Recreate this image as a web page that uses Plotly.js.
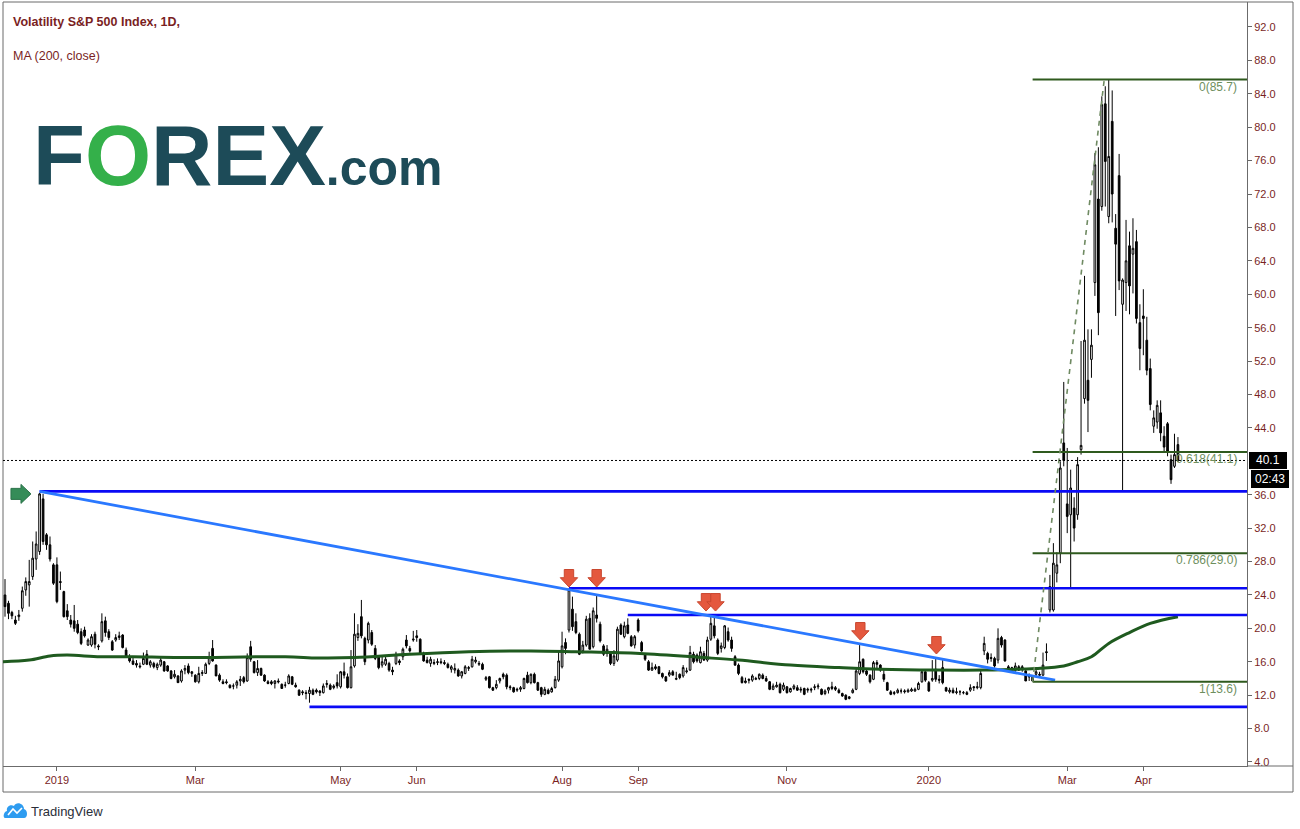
<!DOCTYPE html>
<html><head><meta charset="utf-8">
<script src="https://cdn.plot.ly/plotly-3.0.1.min.js"></script>
<style>html,body{margin:0;padding:0;background:#fff;overflow:hidden}#chart{width:1300px;height:829px}</style>
</head><body><div id="chart"></div>
<script>
// ---- Daily OHLC of the Volatility S&P 500 Index, 10 Dec 2018 .. 16 Apr 2020 (one row per month) ----
const open = [
24.0,23.0,21.9,21.0,21.4,22.4,24.6,25.2,26.2,28.3,29.2,35.5,31.2,30.0,27.6,
27.6,25.6,24.4,22.1,21.0,20.9,20.5,19.6,19.8,18.0,18.0,19.3,17.9,18.5,20.9,19.6,18.4,18.6,18.9,19.2,17.4,
16.6,16.1,15.8,15.5,15.7,16.9,15.6,15.8,15.3,15.6,16.0,15.5,14.9,14.2,14.3,13.7,15.0,15.5,14.6,
14.4,13.6,14.6,14.6,15.8,17.6,15.6,14.4,13.6,13.6,13.2,13.1,13.2,13.7,14.1,13.7,17.8,16.0,14.7,15.2,14.4,
13.6,13.6,13.4,13.7,13.3,13.2,13.4,14.2,13.2,12.6,12.4,12.3,12.2,12.6,12.6,12.5,12.3,13.4,13.2,12.9,13.5,
13.0,14.8,14.2,12.9,15.5,18.9,21.4,18.8,18.6,19.5,17.6,16.6,15.6,15.7,15.8,15.0,15.8,16.1,16.6,18.6,17.6,18.6,
19.1,18.7,17.0,16.2,15.8,15.8,15.9,16.0,15.9,15.7,15.1,15.0,15.0,14.3,14.6,15.2,15.4,16.0,15.7,15.7,
13.9,14.2,12.9,12.9,13.7,14.5,14.4,13.0,12.9,12.6,12.7,12.8,14.4,13.5,14.5,13.5,12.9,12.1,12.6,12.4,12.9,13.8,
15.4,18.3,19.8,22.3,20.8,19.3,17.3,18.0,21.2,17.8,21.6,20.5,17.9,17.0,17.0,15.8,16.2,20.4,19.0,20.4,19.0,18.0,
21.0,18.3,16.9,16.0,15.0,15.4,15.4,14.6,14.2,14.4,14.8,13.9,14.5,14.3,14.8,15.0,16.9,16.8,15.9,17.0,
16.2,18.7,20.3,18.6,17.6,17.7,19.6,18.6,16.6,15.6,14.1,13.5,13.9,13.8,13.9,14.0,14.4,14.0,13.6,12.7,13.0,13.3,12.7,
13.0,12.4,12.8,12.9,12.6,12.8,12.6,12.6,12.9,13.0,12.7,12.2,12.6,13.0,12.9,12.6,12.2,12.0,11.6,12.3,
12.7,14.6,16.3,14.9,14.4,13.9,15.9,15.6,14.5,13.5,12.4,12.2,12.3,12.5,12.4,12.4,12.5,12.5,12.7,13.6,14.8,
13.5,13.8,15.1,13.9,15.3,12.9,12.4,12.6,12.3,12.4,12.3,12.3,12.6,13.0,12.9,12.9,17.3,17.0,16.5,16.4,16.2,
18.9,18.6,15.4,15.3,15.0,15.4,15.4,14.9,14.3,14.3,14.5,14.5,14.4,17.2,22.2,22.2,26.6,29.0,42.2,
34.9,33.6,34.4,33.6,41.4,47.5,49.7,52.2,61.4,71.4,70.5,82.8,69.3,80.7,67.9,74.2,58.8,61.4,65.8,64.8,66.3,56.6,
57.4,54.5,51.1,44.2,44.7,45.8,43.0,44.5,40.2,39.4,42.0];
const high = [
25.9,23.3,22.1,21.5,22.2,25.0,26.1,28.2,30.4,31.6,36.2,36.1,31.4,31.0,27.8,
28.5,26.8,24.5,22.9,21.6,22.8,21.0,20.0,20.2,18.8,19.3,19.6,18.1,21.8,21.4,19.9,18.6,19.3,19.6,19.3,17.7,
16.9,16.6,16.2,15.9,17.1,17.4,16.2,16.0,15.9,16.5,16.1,15.6,15.0,15.0,14.4,15.1,15.6,15.8,14.9,
14.5,15.4,15.0,15.9,17.2,18.6,15.7,14.6,13.9,13.9,13.3,13.4,13.8,14.3,14.3,17.0,18.5,16.1,16.2,15.3,14.5,
13.8,13.8,13.8,14.0,13.4,13.6,14.5,14.3,13.5,12.7,12.6,12.6,13.0,12.8,12.8,12.6,13.4,13.8,13.4,13.3,14.5,
14.9,15.9,14.6,17.4,21.8,20.5,23.4,19.0,20.8,19.8,18.0,16.8,16.6,16.8,16.0,15.4,17.2,16.3,17.7,19.2,17.9,19.7,
19.8,18.8,17.2,16.6,16.6,16.3,16.4,16.4,16.2,15.9,15.6,15.8,15.2,14.9,15.6,15.5,16.7,16.6,16.1,15.9,
14.3,14.3,13.0,13.8,14.1,14.7,14.6,13.2,13.0,12.9,13.1,14.1,14.8,14.6,14.7,13.6,13.0,13.0,12.8,13.0,14.3,17.3,
19.6,18.8,24.8,23.8,21.8,19.5,18.5,21.5,21.8,22.5,24.0,20.8,18.1,18.0,17.2,17.4,20.2,20.6,20.8,21.2,19.2,19.2,
21.2,18.5,17.0,16.2,15.9,15.7,15.5,14.7,14.3,15.0,15.0,14.8,14.6,15.6,15.3,17.9,17.2,17.0,17.8,17.3,
19.0,21.5,21.3,18.8,18.3,20.4,20.1,19.0,16.8,15.8,14.3,14.1,14.0,14.5,14.2,14.6,14.6,14.3,13.7,13.4,13.6,13.5,13.5,
13.1,12.9,13.3,13.2,13.0,12.9,12.9,12.9,13.3,13.4,12.8,12.7,13.0,13.6,13.1,12.8,12.3,12.1,11.9,12.8,
15.3,18.0,16.4,15.2,14.5,16.1,16.2,15.7,15.2,13.6,12.6,12.5,12.8,12.8,12.7,12.8,12.9,12.9,13.6,15.0,15.0,
13.7,16.2,16.4,14.4,16.2,13.0,12.9,12.9,12.9,12.6,12.5,12.5,13.3,13.1,13.6,15.0,19.0,17.2,17.0,16.6,20.0,
19.1,18.7,15.6,15.4,15.9,15.6,15.6,15.0,14.6,14.4,15.3,14.8,17.1,18.2,26.4,30.2,29.1,40.0,49.5,
41.6,39.0,35.7,40.5,54.4,62.2,55.8,55.8,76.9,77.6,83.7,84.9,85.7,84.4,69.6,76.8,61.9,68.9,67.5,69.1,67.7,58.8,
60.6,57.3,52.3,46.1,47.3,47.3,44.2,44.7,40.8,43.3,42.9];
const low = [
21.4,21.1,21.1,20.4,20.9,22.0,23.9,22.6,25.8,27.0,28.8,30.0,29.4,28.0,25.2,
23.0,24.6,21.3,21.0,20.1,19.6,19.3,18.0,18.9,17.9,17.8,17.6,17.4,18.3,19.0,18.6,17.3,18.4,18.6,17.6,16.5,
15.9,15.6,15.3,15.2,15.6,15.6,15.3,15.2,15.0,15.4,14.8,14.8,13.9,14.0,13.5,13.5,14.5,14.5,14.2,
13.5,13.4,14.3,14.6,15.6,16.0,14.3,13.6,13.3,13.3,12.8,12.7,12.8,13.1,13.4,13.6,16.0,14.6,14.3,14.3,13.6,
13.3,13.2,12.8,13.4,12.8,12.9,13.3,13.2,12.9,11.9,12.0,11.5,11.1,12.0,12.2,11.9,12.2,12.9,12.6,12.7,12.8,
12.8,14.0,12.8,12.8,15.3,18.5,18.8,15.6,18.2,17.9,16.2,15.1,15.3,15.5,14.8,14.4,15.6,15.6,16.2,17.6,17.1,18.4,
18.4,16.9,16.0,15.8,15.4,15.6,15.6,15.7,15.6,15.2,14.7,14.6,14.2,14.0,14.5,14.9,15.3,15.8,15.5,15.0,
13.7,12.8,12.5,12.7,13.4,13.9,12.7,12.6,12.3,12.4,12.4,12.7,13.4,13.3,13.4,12.5,11.8,12.0,12.1,12.3,12.8,13.6,
15.2,16.9,19.5,19.7,19.3,16.8,17.0,17.8,17.5,17.6,20.7,18.3,16.7,16.6,15.6,15.5,16.0,19.2,18.8,19.3,17.8,17.6,
19.5,17.2,16.1,14.9,14.9,15.0,14.5,14.0,13.6,14.2,14.4,13.8,13.9,14.1,14.6,14.9,15.8,15.9,15.8,16.1,
16.0,18.5,18.8,16.8,17.1,17.5,18.4,17.2,15.5,14.4,13.4,13.4,13.4,13.6,13.8,13.8,13.9,13.6,12.6,12.6,12.9,12.2,12.5,
12.2,12.3,12.6,12.5,12.3,12.0,12.3,12.3,12.6,12.7,12.0,12.0,12.2,12.6,12.5,12.2,11.8,11.4,11.5,12.2,
12.6,14.4,14.6,14.3,13.4,13.8,15.2,14.8,13.6,12.5,12.0,12.0,12.2,12.2,12.2,12.3,12.4,12.4,12.6,13.5,13.6,
12.4,13.6,13.6,13.4,13.3,12.4,12.2,12.2,12.1,12.0,12.1,12.0,12.4,12.5,12.7,12.7,16.8,15.8,16.0,15.3,15.8,
17.7,16.0,14.9,14.8,14.8,14.9,14.8,13.7,13.7,13.6,14.3,14.2,14.3,16.1,21.9,22.0,25.5,27.8,39.4,
31.4,24.8,30.4,33.0,40.8,46.9,43.5,50.0,59.8,55.1,70.0,70.5,68.5,68.6,57.4,60.5,36.4,58.0,57.6,60.1,56.5,50.9,
52.7,50.3,46.1,43.4,43.9,42.4,41.0,40.6,37.3,39.2,39.9];
const close = [
22.6,21.8,21.5,20.6,21.6,24.5,25.6,25.6,28.4,30.1,36.1,30.4,30.0,28.3,25.4,
23.2,25.5,21.4,21.4,20.5,20.0,19.5,18.2,19.1,18.6,19.0,18.1,17.8,20.8,19.5,18.9,17.4,18.9,19.1,17.7,16.6,
16.1,15.7,15.6,15.4,16.4,15.7,16.0,15.4,15.7,16.2,14.9,14.9,14.0,14.5,13.5,14.9,15.2,14.7,14.8,
13.6,14.6,14.7,15.7,16.6,16.1,14.3,13.8,13.4,13.5,12.9,13.1,13.6,13.9,13.6,16.5,16.3,14.7,15.2,14.4,13.7,
13.4,13.4,13.7,13.6,12.8,13.2,14.3,13.3,13.0,12.0,12.3,12.2,12.6,12.1,12.4,12.3,13.1,13.3,12.7,13.1,13.1,
14.8,14.4,12.9,15.4,19.3,19.4,19.1,16.0,20.6,18.1,16.4,15.3,16.0,16.3,15.0,14.8,16.9,15.9,17.5,17.9,17.3,18.7,
18.9,17.0,16.1,15.9,16.3,15.9,16.0,15.9,15.8,15.3,15.4,15.2,14.3,14.8,15.4,15.3,16.3,16.2,15.8,15.1,
14.1,12.9,12.6,13.3,14.0,14.2,13.0,12.9,12.4,12.7,12.9,14.0,13.5,14.5,13.5,12.6,12.1,12.7,12.2,12.8,13.9,16.1,
17.9,17.6,24.6,20.2,19.5,16.9,18.0,21.1,17.5,22.1,21.2,18.5,16.9,17.5,15.8,16.7,19.9,19.3,20.3,19.4,17.9,19.0,
19.7,17.3,16.3,15.0,15.3,15.2,14.6,14.2,13.7,14.7,14.4,14.0,14.1,15.3,14.9,17.1,16.0,16.1,17.2,16.2,
18.6,20.6,19.1,17.0,17.9,20.3,18.6,17.6,15.6,14.6,13.5,13.7,13.8,14.3,14.0,14.5,14.0,13.7,12.7,13.1,13.2,12.3,13.2,
12.3,12.8,13.1,12.6,12.7,12.1,12.7,12.7,13.0,13.1,12.1,12.5,12.9,12.8,12.7,12.3,11.9,11.5,11.8,12.6,
14.9,16.0,14.8,14.5,13.6,15.9,15.7,15.0,13.9,12.6,12.1,12.3,12.6,12.5,12.5,12.6,12.7,12.7,13.4,14.8,13.8,
12.5,14.0,13.9,13.8,13.5,12.5,12.6,12.3,12.4,12.4,12.3,12.1,12.9,12.9,13.0,14.6,18.2,16.3,16.4,15.5,18.8,
18.0,16.1,15.2,15.0,15.5,15.0,15.2,13.7,14.2,13.7,14.8,14.4,15.6,17.1,25.0,27.8,27.6,39.2,40.1,
33.4,36.8,32.0,39.6,41.9,54.5,47.3,53.9,75.5,57.8,82.7,75.9,76.5,72.0,66.0,61.6,61.7,64.0,61.0,65.5,57.1,53.5,
57.1,50.9,46.8,45.2,46.7,43.4,41.7,41.2,37.8,40.8,40.1];

const maIdx = [-0.6, 7, 13, 18, 27.5, 37, 50.6, 81, 90.5, 101, 117, 134, 152, 165, 183.5, 202, 212, 227, 241, 253, 269, 283, 298, 306, 310, 314, 319, 325, 331, 339];
const maVal = [16.0, 16.2, 16.7, 16.8, 16.6, 16.6, 16.5, 16.6, 16.45, 16.5, 16.9, 17.2, 17.3, 17.2, 17.0, 16.5, 16.2, 15.6, 15.3, 15.1, 15.0, 15.0, 15.2, 15.5, 16.0, 16.6, 18.2, 19.5, 20.6, 21.4];

// Market holidays (for the trading-day calendar) and time-axis labels
const holidays = ['2018-12-25','2019-01-01','2019-01-21','2019-02-18','2019-04-19','2019-05-27','2019-07-04','2019-09-02','2019-11-28','2019-12-25','2020-01-01','2020-01-20','2020-02-17','2020-04-10'];
const tickDates = ['2019-01-02','2019-03-01','2019-05-01','2019-06-03','2019-08-01','2019-09-03','2019-11-01','2020-01-02','2020-03-02','2020-04-01'];
const tickLabels = ['2019','Mar','May','Jun','Aug','Sep','Nov','2020','Mar','Apr'];
// Price-axis ticks (40.0 is covered by the last-price label in the reference)
const priceTicks = [4,8,12,16,20,24,28,32,36,44,48,52,56,60,64,68,72,76,80,84,88,92];

// Fibonacci retracement (level, price)
const fibLevels = [0, 0.618, 0.786, 1];
const fibValues = [85.7, 41.1, 29.0, 13.6];

// Drawn horizontal levels (start date, price) and the falling trend line
const levelStart = ['2018-12-24','2019-08-05','2019-08-28','2019-04-17'];
const levelValue = [36.4, 24.8, 21.6, 10.6];
const trendDates = ['2018-12-24','2020-02-26'];
const trendValues = [36.4, 13.8];
// Red marker arrows (date, price at arrow tip)
const arrowDates = ['2019-08-05','2019-08-15','2019-10-01','2019-10-03','2019-12-03','2020-01-06'];
const arrowOffset = [0, 0, -0.4, 0.35, 0.2, 0.2];
const arrowValues = [24.95, 24.95, 22.07, 22.07, 18.6, 16.93];
const countdown = '02:43';

// ---- trading-day calendar ----
const dates = [];
for (let d = new Date(Date.UTC(2018, 11, 10)); dates.length < close.length; d.setUTCDate(d.getUTCDate() + 1)) {
  const wd = d.getUTCDay(); const s = d.toISOString().slice(0, 10);
  if (wd === 0 || wd === 6 || holidays.includes(s)) continue;
  dates.push(s);
}
const idx = dates.map((_, i) => i);
const di = s => dates.indexOf(s);

const XL = -0.58, XR = 358.96, YB = 3.52, YT = 94.99;
const W = 1300, H = 829, ML = 3, MR = 53, MT = 2, MB = 63;
const PW = W - ML - MR, PH = H - MT - MB;
const px = x => (x - ML) / PW;          // pixel -> paper x
const py = y => (H - MB - y) / PH;       // pixel -> paper y

const darkRed = '#7a1f1f';
const fibColor = '#6e8f5e';
const shapes = [];
const annotations = [];

// frame
shapes.push({type:'rect', xref:'paper', yref:'paper', x0:0, x1:px(1293), y0:py(792), y1:1, line:{color:'#6b6b6b', width:1}, layer:'below'});
shapes.push({type:'line', xref:'paper', yref:'paper', x0:1, x1:px(1293), y0:0, y1:0, line:{color:'#6b6b6b', width:1}});

// blue horizontal levels
levelStart.forEach((s, i) => shapes.push({type:'line', xref:'x', yref:'y', x0:di(s), x1:XR, y0:levelValue[i], y1:levelValue[i], line:{color:'#0a0af5', width:2.6}}));
// trend line
shapes.push({type:'line', xref:'x', yref:'y', x0:di(trendDates[0]), x1:di(trendDates[1]) - 0.5, y0:trendValues[0], y1:trendValues[1], line:{color:'#2a78ff', width:2.8}});

// fib lines + labels
const fibStart = di('2020-02-14');
fibValues.forEach((v, i) => {
  shapes.push({type:'line', xref:'x', yref:'y', x0:fibStart, x1:XR, y0:v, y1:v, line:{color:'#2f5a1e', width:2}});
  annotations.push({xref:'x', yref:'y', x:356.6, y:v, xanchor:'right', yanchor:'middle', yshift:-7, showarrow:false,
    text: fibLevels[i] + '(' + v.toFixed(1) + ')', font:{family:'Liberation Sans, Arial', size:12, color:fibColor}});
});
// dashed fib diagonal
shapes.push({type:'line', xref:'x', yref:'y', x0:fibStart, x1:di('2020-03-16') + 0.7, y0:fibValues[3], y1:fibValues[0], line:{color:'#6f8a62', width:1.6, dash:'5px,5px'}});

// current price dotted line and labels
const last = close[close.length - 1];
shapes.push({type:'line', xref:'paper', yref:'y', x0:0, x1:1, y0:last, y1:last, line:{color:'#000', width:1, dash:'2px,2px'}});
shapes.push({type:'rect', xref:'paper', yref:'y', ysizemode:'pixel', yanchor:last, x0:px(1249), x1:px(1287), y0:-8.5, y1:8.5, fillcolor:'#000', line:{width:0}});
shapes.push({type:'rect', xref:'paper', yref:'y', ysizemode:'pixel', yanchor:last, x0:px(1251), x1:px(1289), y0:-9.5, y1:-27.5, fillcolor:'#000', line:{width:0}});
annotations.push({xref:'paper', yref:'y', x:px(1268), y:last, xanchor:'center', yanchor:'middle', showarrow:false, text:last.toFixed(1), font:{family:'Liberation Sans, Arial', size:12, color:'#fff'}});
annotations.push({xref:'paper', yref:'y', x:px(1270), y:last, yshift:-18.5, xanchor:'center', yanchor:'middle', showarrow:false, text:countdown, font:{family:'Liberation Sans, Arial', size:12, color:'#fff'}});

// red arrows (pixel-sized paths anchored at data points)
const arrowPath = 'M 0 0 L -8.7 9.3 L -4.7 9.3 L -4.7 17.5 L 4.7 17.5 L 4.7 9.3 L 8.7 9.3 Z';
arrowDates.forEach((s, i) => shapes.push({type:'path', xref:'x', yref:'y', xsizemode:'pixel', ysizemode:'pixel',
  xanchor:di(s) + arrowOffset[i], yanchor:arrowValues[i], path:arrowPath, fillcolor:'#e4583e', line:{color:'#c9472f', width:1}}));
// green arrow at the December 2018 high
shapes.push({type:'path', xref:'x', yref:'y', xsizemode:'pixel', ysizemode:'pixel', xanchor:7.5, yanchor:36.1,
  path:'M 0 0 L -10 9.5 L -10 5.5 L -20 5.5 L -20 -5.5 L -10 -5.5 L -10 -9.5 Z', fillcolor:'#358c58', line:{color:'#2b7249', width:1}});

// header texts
annotations.push({xref:'paper', yref:'paper', x:px(11), y:py(22), xanchor:'left', yanchor:'middle', showarrow:false,
  text:'<b>Volatility S&amp;P 500 Index, 1D, </b>', font:{family:'Liberation Sans, Arial', size:12.5, color:darkRed}});
annotations.push({xref:'paper', yref:'paper', x:px(11), y:py(56), xanchor:'left', yanchor:'middle', showarrow:false,
  text:'MA (200, close)', font:{family:'Liberation Sans, Arial', size:12.5, color:darkRed}});
// logo
annotations.push({xref:'paper', yref:'paper', x:px(31), y:py(155), xanchor:'left', yanchor:'middle', showarrow:false,
  text:'<b>F<span style="color:#34b04a">O</span>REX<span style="font-size:50px">.com</span></b>', font:{family:'Liberation Sans, Arial', size:85, color:'#1d4b58'}});
// TradingView footer
annotations.push({xref:'paper', yref:'paper', x:px(29), y:py(811), xanchor:'left', yanchor:'middle', showarrow:false,
  text:'TradingView', font:{family:'Liberation Sans, Arial', size:13, color:'#2a2e39'}});
shapes.push({type:'path', xref:'paper', yref:'paper', xsizemode:'pixel', ysizemode:'pixel', xanchor:px(3), yanchor:py(819),
  path:'M 2 1 L 21 1 C 25 1 25 9 21 10 C 21 16 13 18 11 13 C 7 15 3 12 4 8 C 0 7 0 1 2 1 Z', fillcolor:'#2e9cf0', line:{width:0}});
shapes.push({type:'path', xref:'paper', yref:'paper', xsizemode:'pixel', ysizemode:'pixel', xanchor:px(3), yanchor:py(819),
  path:'M 5 4 L 10 10 L 14 6 L 19 11', line:{color:'#ffffff', width:1.6}});

const traces = [
  {type:'candlestick', x:idx, open:open, high:high, low:low, close:close, whiskerwidth:0,
   increasing:{line:{color:'#000', width:1}, fillcolor:'#ffffff'},
   decreasing:{line:{color:'#000', width:1}, fillcolor:'#000000'},
   hoverinfo:'skip', showlegend:false},
  {type:'scatter', mode:'lines', x:maIdx, y:maVal, line:{color:'#1f5a1f', width:3, shape:'spline', smoothing:1}, hoverinfo:'skip', showlegend:false}
];

const layout = {
  width:W, height:H, margin:{l:ML, r:MR, t:MT, b:MB, pad:0},
  paper_bgcolor:'#fff', plot_bgcolor:'#fff', showlegend:false,
  xaxis:{range:[XL, XR], autorange:false, rangeslider:{visible:false}, showgrid:false, zeroline:false,
    tickmode:'array', tickvals:tickDates.map(di), ticktext:tickLabels, ticks:'outside', ticklen:4, tickcolor:'#666',
    showline:true, linecolor:'#6b6b6b', linewidth:1, tickfont:{family:'Liberation Sans, Arial', size:11, color:darkRed}},
  yaxis:{side:'right', range:[YB, YT], autorange:false, showgrid:false, zeroline:false,
    tickmode:'array', tickvals:priceTicks, ticktext:priceTicks.map(v => v.toFixed(1)), ticks:'outside', ticklen:4, tickcolor:'#666',
    showline:true, linecolor:'#6b6b6b', linewidth:1, tickfont:{family:'Liberation Sans, Arial', size:11, color:darkRed}},
  shapes:shapes, annotations:annotations
};
Plotly.newPlot('chart', traces, layout, {displayModeBar:false, staticPlot:true});
</script></body></html>
